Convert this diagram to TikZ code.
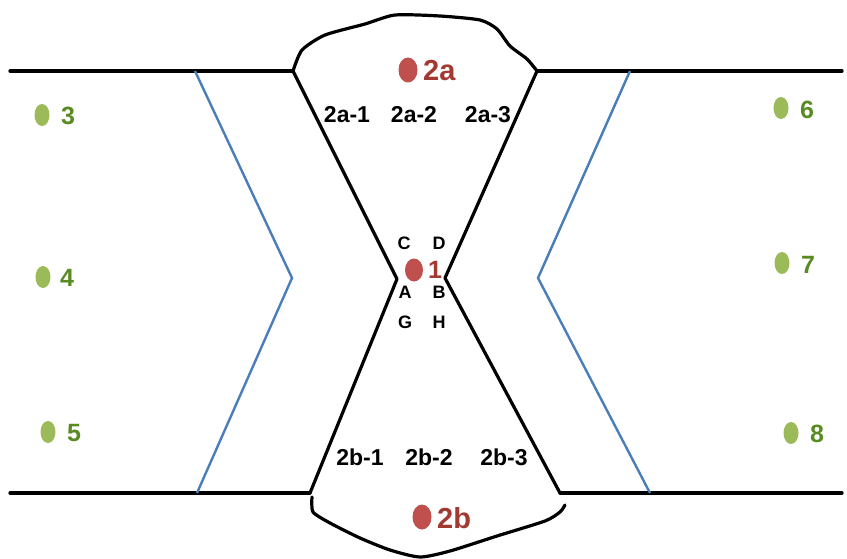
\documentclass[tikz,border=0pt]{standalone}
\usepackage{fontspec}
\setmainfont{Liberation Sans}
\usetikzlibrary{shapes.geometric}
\definecolor{bluel}{HTML}{4A7EBB}
\definecolor{reddot}{HTML}{C0504D}
\definecolor{redtxt}{HTML}{A33A32}
\definecolor{grndot}{HTML}{9BBB59}
\definecolor{grntxt}{HTML}{5A8A22}
\begin{document}
\begin{tikzpicture}[x=1pt,y=-1pt,
  wall/.style={line width=3.2pt, line join=round, line cap=round},
  bwall/.style={line width=2.4pt, draw=bluel, line join=miter},
  rdot/.style={ellipse, fill=reddot, inner sep=0pt, minimum width=19pt, minimum height=25pt},
  gdot/.style={ellipse, fill=grndot, inner sep=0pt, minimum width=15pt, minimum height=22pt},
  rlab/.style={anchor=west, inner sep=0pt, text=redtxt, font=\fontsize{29}{29}\selectfont\bfseries},
  glab/.style={anchor=west, inner sep=0pt, text=grntxt, font=\fontsize{25}{25}\selectfont\bfseries},
  klab/.style={inner sep=0pt, font=\fontsize{23}{23}\selectfont\bfseries},
  slab/.style={inner sep=0pt, font=\fontsize{18}{18}\selectfont\bfseries}
]
\useasboundingbox (0,0) rectangle (847,558);
% key points
\coordinate (LT) at (10,71);
\coordinate (LB) at (10,493);
\coordinate (RT) at (842,71);
\coordinate (RB) at (842,493);
\coordinate (tl) at (293,71);
\coordinate (tr) at (537,71);
\coordinate (bl) at (310,493);
\coordinate (br) at (560,493);
\coordinate (pl) at (397,279);
\coordinate (pr) at (445,278);
% outer walls
\draw[wall] (LT) -- (tl);
\draw[wall] (tr) -- (RT);
\draw[wall] (LB) -- (bl);
\draw[wall] (br) -- (RB);
% hourglass
\draw[wall] (tl) -- (pl) -- (bl);
\draw[wall] (tr) -- (pr) -- (br);
% top blob
\draw[wall] plot[smooth, tension=0.4] coordinates {(293,71) (302,50) (325,35) (365,24) (395,15) (440,16) (480,20) (497,29) (510,46) (527,59) (537,71)};
% bottom blob
\draw[wall] plot[smooth, tension=0.4] coordinates {(312,497) (313,512) (330,523) (360,538) (390,550) (420,557) (450,551) (497,536) (545,521) (560,512) (565,505)};
% blue lines
\coordinate (blt) at (195,71);
\coordinate (blv) at (292,278);
\coordinate (blb) at (197,493);
\coordinate (brt) at (630,71);
\coordinate (brv) at (538,278);
\coordinate (brb) at (650,493);
\draw[bwall] (blt) -- (blv) -- (blb);
\draw[bwall] (brt) -- (brv) -- (brb);
% red dots
\node[rdot] (d2a) at (408,70) {};
\node[rlab] (l2a) at (423,71) {2a};
\node[rdot] (d2b) at (422,517) {};
\node[rlab] (l2b) at (437,518) {2b};
\node[rdot, minimum width=18pt, minimum height=23pt] (d1) at (414,270) {};
\node[rlab, font=\fontsize{25}{25}\selectfont\bfseries] (l1) at (428,270) {1};
% green dots
\node[gdot] (d3) at (42,115) {};
\node[glab] (l3) at (61,116) {3};
\node[gdot] (d4) at (43,277) {};
\node[glab] (l4) at (60,278) {4};
\node[gdot] (d5) at (48,432) {};
\node[glab] (l5) at (67,433) {5};
\node[gdot] (d6) at (781,108) {};
\node[glab] (l6) at (800,110) {6};
\node[gdot] (d7) at (782,263) {};
\node[glab] (l7) at (801,265) {7};
\node[gdot] (d8) at (791,433) {};
\node[glab] (l8) at (810,434) {8};
% black labels
\node[klab] (a1) at (347,115) {2a-1};
\node[klab] (a2) at (414,115) {2a-2};
\node[klab] (a3) at (488,115) {2a-3};
\node[klab] (b1) at (360,457) {2b-1};
\node[klab] (b2) at (429,457) {2b-2};
\node[klab] (b3) at (504,457) {2b-3};
\node[slab] (C) at (404,243) {C};
\node[slab] (D) at (439,243) {D};
\node[slab] (A) at (405,292) {A};
\node[slab] (B) at (439,292) {B};
\node[slab] (G) at (405,322) {G};
\node[slab] (H) at (439,322) {H};
\end{tikzpicture}
\end{document}
